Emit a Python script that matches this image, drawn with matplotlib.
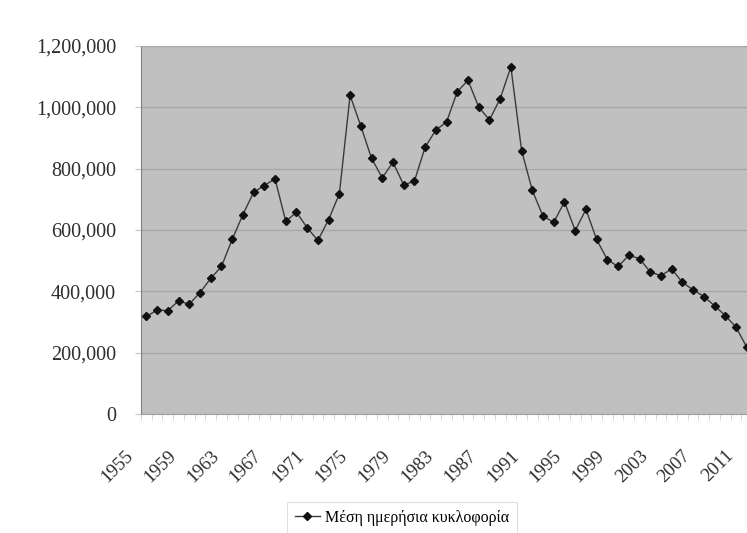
import matplotlib.pyplot as plt
import matplotlib.transforms as mtransforms
from matplotlib.ticker import FuncFormatter, FixedLocator

# Data: average daily traffic per year
years = list(range(1955, 2012))
traffic = [318000, 339000, 337000, 369000, 358000, 396000, 442000, 481000,
           569000, 650000, 723000, 745000, 767000, 628000, 658000, 607000,
           566000, 634000, 718000, 1039000, 939000, 834000, 770000, 821000,
           747000, 759000, 870000, 926000, 952000, 1051000, 1088000, 1001000,
           959000, 1028000, 1132000, 859000, 729000, 645000, 625000, 692000,
           598000, 667000, 569000, 503000, 481000, 517000, 507000, 463000,
           451000, 473000, 429000, 405000, 383000, 353000, 321000, 283000,
           218000]
label_years = [1955, 1959, 1963, 1967, 1971, 1975, 1979, 1983, 1987,
               1991, 1995, 1999, 2003, 2007, 2011]
yticks = [0, 200000, 400000, 600000, 800000, 1000000, 1200000]
series_name = "Μέση ημερήσια κυκλοφορία"

plt.rcParams['font.family'] = ['Liberation Serif', 'DejaVu Serif']

fig = plt.figure(figsize=(7.47, 5.33), dpi=100, facecolor='white')
# axes runs past the right edge, as in the cropped original
ax = fig.add_axes([0.1888, 0.2233, 0.818, 0.6904])
ax.set_facecolor('#c0c0c0')

idx = list(range(len(years)))
ax.plot(idx, traffic, color='#3a3a3a', linewidth=1.0, marker='D',
        markersize=3.8, markerfacecolor='#111111', markeredgecolor='#111111',
        label=series_name, zorder=3)

ax.set_xlim(-0.5, len(years) - 0.5)
ax.set_ylim(0, 1200000)

# y axis
ax.set_yticks(yticks)
ax.yaxis.set_major_formatter(FuncFormatter(lambda v, p: f"{int(v):,}"))
ax.grid(axis='y', color='#a8a8a8', linewidth=1.0, zorder=1)
ax.tick_params(axis='y', length=4, color='#c8c8c8', pad=14,
               labelsize=14.5, labelcolor='#2e2e2e')

# x axis: labels every 4 years, small ticks at category boundaries
label_pos = [years.index(y) for y in label_years]
ax.xaxis.set_major_locator(FixedLocator(label_pos))
ax.set_xticklabels([str(y) for y in label_years], rotation=45,
                   ha='right', va='top', rotation_mode='anchor')
ax.xaxis.set_minor_locator(FixedLocator([i - 0.5 for i in range(len(years) + 1)]))
ax.tick_params(axis='x', which='major', length=0, pad=24,
               labelsize=13.5, labelcolor='#2e2e2e')
ax.tick_params(axis='x', which='minor', length=4, color='#d0d0d0')
shift = mtransforms.ScaledTranslation(-0.22, 0, fig.dpi_scale_trans)
for lbl in ax.get_xticklabels():
    lbl.set_transform(lbl.get_transform() + shift)

ax.spines['left'].set_color('#808080')
ax.spines['bottom'].set_color('#a0a0a0')
ax.spines['top'].set_color('#a8a8a8')
ax.spines['right'].set_visible(False)

leg = fig.legend(loc='upper center', bbox_to_anchor=(0.538, 0.058),
                 frameon=True, fancybox=False, fontsize=11.5,
                 handlelength=1.6, handletextpad=0.3, borderpad=0.5,
                 borderaxespad=0)
leg.get_frame().set_edgecolor('#d8d8d8')
leg.get_frame().set_linewidth(0.8)

fig.savefig('out.png', dpi=100, facecolor='white')
